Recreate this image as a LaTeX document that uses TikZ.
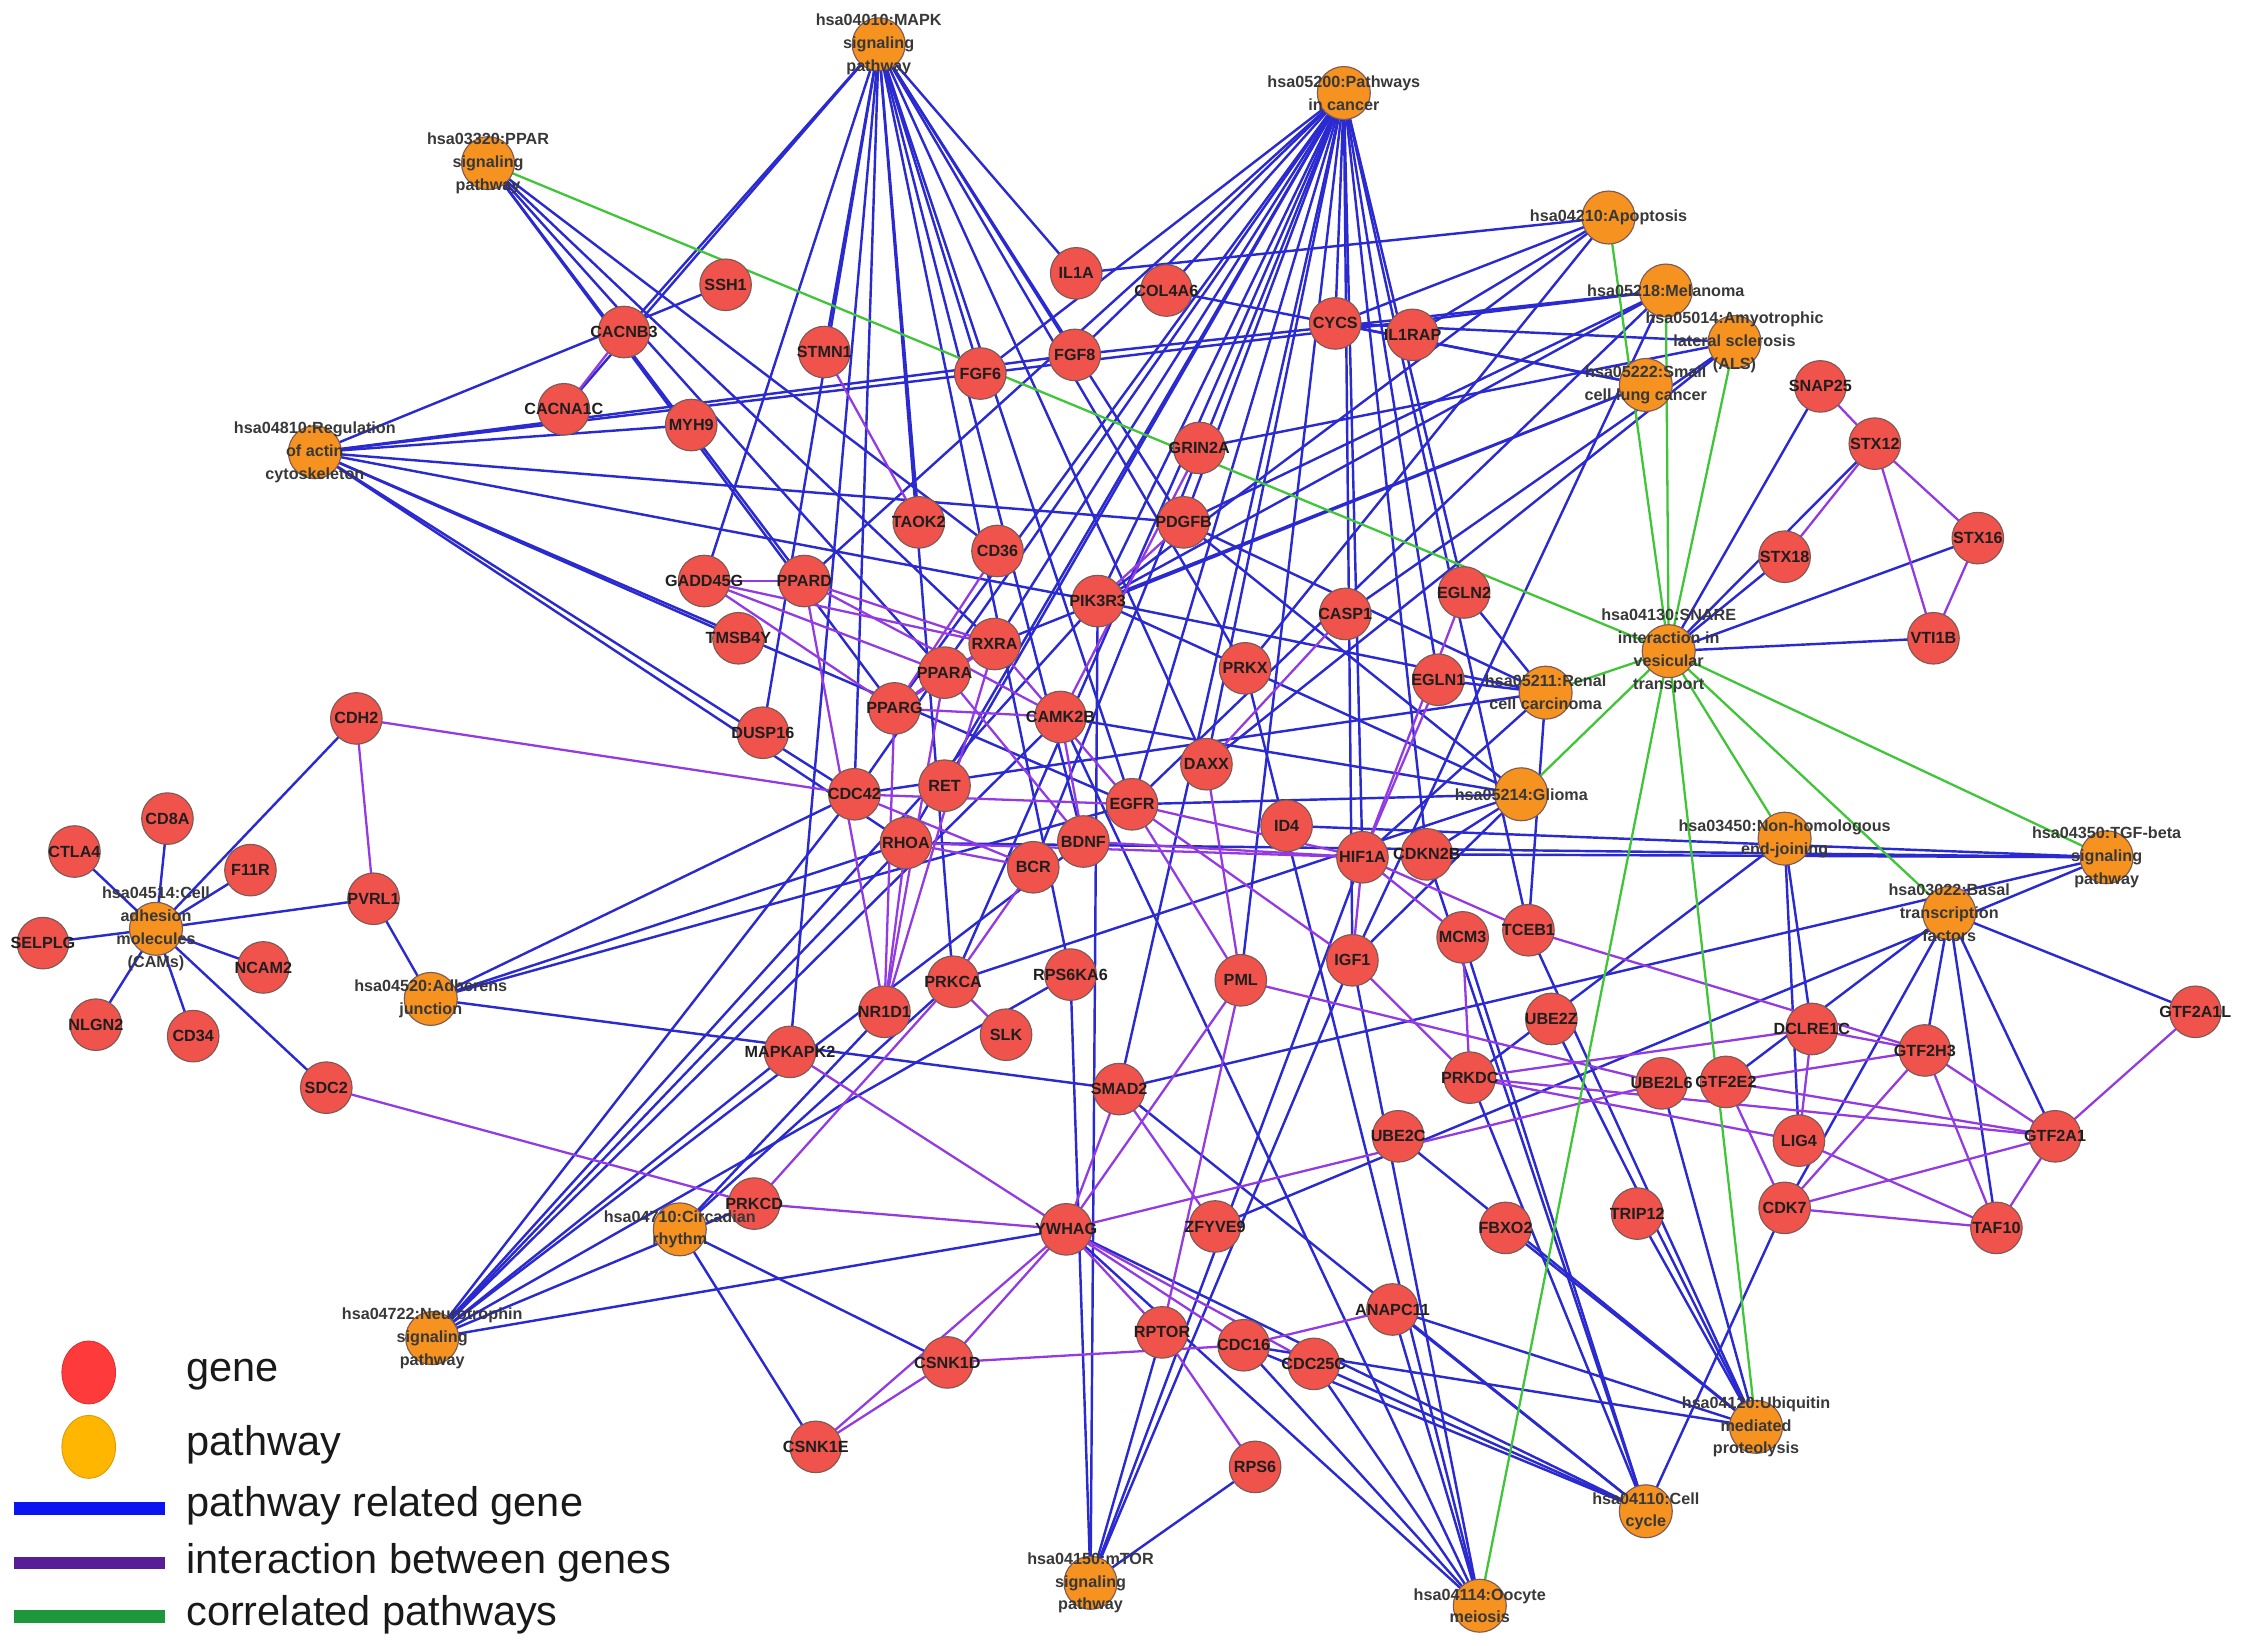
\documentclass[tikz,border=0pt]{standalone}
\usepackage{fontspec}
\setmainfont{Liberation Sans}
\usetikzlibrary{shapes.geometric}
\pgfdeclarelayer{bg}
\pgfdeclarelayer{fg}
\pgfsetlayers{bg,main,fg}
\definecolor{genefill}{RGB}{240,82,76}
\definecolor{pwfill}{RGB}{245,146,32}
\definecolor{nodeline}{RGB}{125,90,85}
\definecolor{eblue}{RGB}{42,42,208}
\definecolor{epurple}{RGB}{148,58,226}
\definecolor{egreen}{RGB}{64,196,56}
\definecolor{lgene}{RGB}{255,58,58}
\definecolor{lpw}{RGB}{255,182,0}
\definecolor{lblue}{RGB}{10,20,240}
\definecolor{lpurple}{RGB}{88,30,150}
\definecolor{lgreen}{RGB}{30,150,60}
\newcommand\GeneNode[4]{\node[genec] (#1) at (#2,#3) {};\begin{pgfonlayer}{fg}\node[gtxt] (#1-t) at (#1) {#4};\end{pgfonlayer}}
\newcommand\PathNode[4]{\node[pwc] (#1) at (#2,#3) {};\begin{pgfonlayer}{fg}\node[ptxt] (#1-t) at (#1) {#4};\end{pgfonlayer}}
\begin{document}
\begin{tikzpicture}[x=1pt,y=-1pt,
 genec/.style={circle,draw=nodeline,fill=genefill,line width=0.8pt,minimum size=36pt,inner sep=0pt},
 pwc/.style={circle,draw=nodeline,fill=pwfill,line width=0.8pt,minimum size=37pt,inner sep=0pt},
 gtxt/.style={font=\fontsize{11.3}{16}\selectfont\bfseries,text=black!88,inner sep=0pt},
 ptxt/.style={font=\fontsize{11.3}{16}\selectfont\bfseries,text=black!78,align=center,inner sep=0pt},
 bl/.style={draw=eblue,line width=1.7pt},
 pu/.style={draw=epurple,line width=1.6pt},
 gr/.style={draw=egreen,line width=1.6pt},
 legtxt/.style={anchor=base west,font=\fontsize{29}{30}\selectfont,text=black!90,inner sep=0pt}]
\useasboundingbox (0,0) rectangle (1568,1150);
% pathways
\PathNode{mapk}{614}{31}{hsa04010:MAPK\\signaling\\pathway}
\PathNode{cancer}{939}{65}{hsa05200:Pathways\\in cancer}
\PathNode{ppar}{341}{114}{hsa03320:PPAR\\signaling\\pathway}
\PathNode{apop}{1124}{152}{hsa04210:Apoptosis}
\PathNode{melan}{1164}{203}{hsa05218:Melanoma}
\PathNode{als}{1212}{239}{hsa05014:Amyotrophic\\lateral sclerosis\\(ALS)}
\PathNode{sclc}{1150}{269}{hsa05222:Small\\cell lung cancer}
\PathNode{actin}{220}{316}{hsa04810:Regulation\\of actin\\cytoskeleton}
\PathNode{snare}{1166}{455}{hsa04130:SNARE\\interaction in\\vesicular\\transport}
\PathNode{renal}{1080}{484}{hsa05211:Renal\\cell carcinoma}
\PathNode{glioma}{1063}{555}{hsa05214:Glioma}
\PathNode{nhej}{1247}{586}{hsa03450:Non-homologous\\end-joining}
\PathNode{tgfb}{1472}{599}{hsa04350:TGF-beta\\signaling\\pathway}
\PathNode{basal}{1362}{638}{hsa03022:Basal\\transcription\\factors}
\PathNode{cams}{109}{649}{hsa04514:Cell\\adhesion\\molecules\\(CAMs)}
\PathNode{adher}{301}{698}{hsa04520:Adherens\\junction}
\PathNode{circ}{475}{859}{hsa04710:Circadian\\rhythm}
\PathNode{neuro}{302}{935}{hsa04722:Neurotrophin\\signaling\\pathway}
\PathNode{mtor}{762}{1106}{hsa04150:mTOR\\signaling\\pathway}
\PathNode{oocyte}{1034}{1122}{hsa04114:Oocyte\\meiosis}
\PathNode{cellcyc}{1150}{1056}{hsa04110:Cell\\cycle}
\PathNode{ubiq}{1227}{997}{hsa04120:Ubiquitin\\mediated\\proteolysis}
% genes
\GeneNode{ssh1}{507}{199}{SSH1}
\GeneNode{il1a}{752}{191}{IL1A}
\GeneNode{col4a6}{815}{203}{COL4A6}
\GeneNode{cycs}{933}{226}{CYCS}
\GeneNode{il1rap}{987}{234}{IL1RAP}
\GeneNode{cacnb3}{436}{232}{CACNB3}
\GeneNode{stmn1}{576}{246}{STMN1}
\GeneNode{fgf6}{685}{261}{FGF6}
\GeneNode{fgf8}{751}{248}{FGF8}
\GeneNode{cacna1c}{394}{286}{CACNA1C}
\GeneNode{myh9}{483}{297}{MYH9}
\GeneNode{grin2a}{838}{313}{GRIN2A}
\GeneNode{pdgfb}{827}{365}{PDGFB}
\GeneNode{taok2}{642}{365}{TAOK2}
\GeneNode{cd36}{697}{385}{CD36}
\GeneNode{gadd45g}{492}{406}{GADD45G}
\GeneNode{ppard}{562}{406}{PPARD}
\GeneNode{pik3r3}{767}{420}{PIK3R3}
\GeneNode{tmsb4y}{516}{446}{TMSB4Y}
\GeneNode{rxra}{695}{450}{RXRA}
\GeneNode{ppara}{660}{470}{PPARA}
\GeneNode{prkx}{870}{467}{PRKX}
\GeneNode{casp1}{940}{429}{CASP1}
\GeneNode{egln2}{1023}{414}{EGLN2}
\GeneNode{egln1}{1005}{475}{EGLN1}
\GeneNode{pparg}{625}{495}{PPARG}
\GeneNode{camk2b}{741}{501}{CAMK2B}
\GeneNode{dusp16}{533}{512}{DUSP16}
\GeneNode{daxx}{843}{534}{DAXX}
\GeneNode{cdh2}{249}{502}{CDH2}
\GeneNode{cdc42}{597}{555}{CDC42}
\GeneNode{ret}{660}{549}{RET}
\GeneNode{egfr}{791}{562}{EGFR}
\GeneNode{id4}{899}{577}{ID4}
\GeneNode{hif1a}{952}{599}{HIF1A}
\GeneNode{cdkn2b}{997}{597}{CDKN2B}
\GeneNode{rhoa}{633}{589}{RHOA}
\GeneNode{bdnf}{757}{588}{BDNF}
\GeneNode{bcr}{722}{606}{BCR}
\GeneNode{cd8a}{117}{572}{CD8A}
\GeneNode{ctla4}{52}{595}{CTLA4}
\GeneNode{f11r}{175}{608}{F11R}
\GeneNode{pvrl1}{261}{628}{PVRL1}
\GeneNode{selplg}{30}{659}{SELPLG}
\GeneNode{ncam2}{184}{676}{NCAM2}
\GeneNode{nlgn2}{67}{716}{NLGN2}
\GeneNode{cd34}{135}{724}{CD34}
\GeneNode{sdc2}{228}{760}{SDC2}
\GeneNode{tceb1}{1068}{650}{TCEB1}
\GeneNode{mcm3}{1022}{655}{MCM3}
\GeneNode{igf1}{945}{671}{IGF1}
\GeneNode{pml}{867}{685}{PML}
\GeneNode{rps6ka6}{748}{681}{RPS6KA6}
\GeneNode{prkca}{666}{686}{PRKCA}
\GeneNode{nr1d1}{618}{707}{NR1D1}
\GeneNode{slk}{703}{723}{SLK}
\GeneNode{mapkapk2}{552}{735}{MAPKAPK2}
\GeneNode{ube2z}{1084}{712}{UBE2Z}
\GeneNode{dclre1c}{1266}{719}{DCLRE1C}
\GeneNode{gtf2h3}{1345}{734}{GTF2H3}
\GeneNode{gtf2a1l}{1534}{707}{GTF2A1L}
\GeneNode{prkdc}{1027}{753}{PRKDC}
\GeneNode{smad2}{782}{761}{SMAD2}
\GeneNode{ube2l6}{1161}{757}{UBE2L6}
\GeneNode{gtf2e2}{1206}{756}{GTF2E2}
\GeneNode{lig4}{1257}{797}{LIG4}
\GeneNode{gtf2a1}{1436}{794}{GTF2A1}
\GeneNode{ube2c}{977}{794}{UBE2C}
\GeneNode{prkcd}{527}{841}{PRKCD}
\GeneNode{cdk7}{1247}{844}{CDK7}
\GeneNode{taf10}{1395}{858}{TAF10}
\GeneNode{trip12}{1144}{848}{TRIP12}
\GeneNode{fbxo2}{1052}{858}{FBXO2}
\GeneNode{ywhag}{745}{859}{YWHAG}
\GeneNode{zfyve9}{849}{857}{ZFYVE9}
\GeneNode{anapc11}{973}{915}{ANAPC11}
\GeneNode{rptor}{812}{931}{RPTOR}
\GeneNode{cdc16}{869}{940}{CDC16}
\GeneNode{cdc25c}{918}{953}{CDC25C}
\GeneNode{csnk1d}{662}{952}{CSNK1D}
\GeneNode{csnk1e}{570}{1011}{CSNK1E}
\GeneNode{rps6}{877}{1025}{RPS6}
\GeneNode{snap25}{1272}{270}{SNAP25}
\GeneNode{stx12}{1310}{310}{STX12}
\GeneNode{stx16}{1382}{376}{STX16}
\GeneNode{stx18}{1247}{389}{STX18}
\GeneNode{vti1b}{1351}{446}{VTI1B}
% edges
\begin{pgfonlayer}{bg}
\foreach \g in {cacnb3,cacna1c,stmn1,taok2,fgf6,fgf8,il1a,pdgfb,gadd45g,dusp16,cdc42,rps6ka6,mapkapk2,egfr,bdnf,prkca,daxx,prkx}
  \draw[bl] (mapk.center) -- (\g.center);
\foreach \g in {fgf6,fgf8,col4a6,pdgfb,pik3r3,rxra,ppard,pparg,cdc42,ret,rhoa,egfr,bcr,prkca,smad2,daxx,pml,igf1,hif1a,cdkn2b,tceb1,egln1,egln2,cycs}
  \draw[bl] (cancer.center) -- (\g.center);
\foreach \g in {cd36,ppard,ppara,pparg,rxra}
  \draw[bl] (ppar.center) -- (\g.center);
\foreach \g in {ssh1,fgf6,fgf8,myh9,pdgfb,pik3r3,tmsb4y,egfr,cdc42,rhoa}
  \draw[bl] (actin.center) -- (\g.center);
\foreach \g in {il1a,cycs,il1rap,pik3r3,prkx}
  \draw[bl] (apop.center) -- (\g.center);
\foreach \g in {fgf6,fgf8,pdgfb,egfr,pik3r3,igf1}
  \draw[bl] (melan.center) -- (\g.center);
\foreach \g in {cycs,grin2a,casp1,daxx}
  \draw[bl] (als.center) -- (\g.center);
\foreach \g in {col4a6,cycs,pik3r3,rxra}
  \draw[bl] (sclc.center) -- (\g.center);
\foreach \g in {snap25,stx12,stx16,stx18,vti1b}
  \draw[bl] (snare.center) -- (\g.center);
\foreach \g in {egln1,egln2,hif1a,tceb1,pik3r3,cdc42,pdgfb}
  \draw[bl] (renal.center) -- (\g.center);
\foreach \g in {egfr,pdgfb,cdkn2b,igf1,camk2b,pik3r3,prkca}
  \draw[bl] (glioma.center) -- (\g.center);
\foreach \g in {prkdc,dclre1c,lig4}
  \draw[bl] (nhej.center) -- (\g.center);
\foreach \g in {id4,cdkn2b,smad2,zfyve9,rhoa}
  \draw[bl] (tgfb.center) -- (\g.center);
\foreach \g in {gtf2h3,gtf2a1l,gtf2a1,gtf2e2,taf10,cdk7}
  \draw[bl] (basal.center) -- (\g.center);
\foreach \g in {cd8a,ctla4,f11r,selplg,ncam2,nlgn2,cd34,sdc2,pvrl1,cdh2}
  \draw[bl] (cams.center) -- (\g.center);
\foreach \g in {pvrl1,cdc42,rhoa,egfr,smad2}
  \draw[bl] (adher.center) -- (\g.center);
\foreach \g in {nr1d1,csnk1d,csnk1e,prkca}
  \draw[bl] (circ.center) -- (\g.center);
\foreach \g in {bdnf,rhoa,cdc42,pik3r3,mapkapk2,ywhag,camk2b,rps6ka6,prkcd}
  \draw[bl] (neuro.center) -- (\g.center);
\foreach \g in {rps6ka6,rptor,rps6,pik3r3,igf1,hif1a}
  \draw[bl] (mtor.center) -- (\g.center);
\foreach \g in {ywhag,cdc16,cdc25c,anapc11,igf1,camk2b,prkx}
  \draw[bl] (oocyte.center) -- (\g.center);
\foreach \g in {cdc16,cdc25c,anapc11,ywhag,prkdc,smad2,cdkn2b,mcm3,cdk7}
  \draw[bl] (cellcyc.center) -- (\g.center);
\foreach \g in {ube2z,ube2l6,ube2c,fbxo2,trip12,cdc16,anapc11,tceb1}
  \draw[bl] (ubiq.center) -- (\g.center);
% gene-gene interactions
\foreach \a/\b in {cdh2/pvrl1,cdh2/cdc42,sdc2/prkcd,
  snap25/stx12,stx12/stx18,stx12/stx16,stx12/vti1b,stx16/vti1b,
  prkcd/ywhag,prkcd/prkca,ywhag/csnk1d,ywhag/csnk1e,csnk1d/csnk1e,csnk1d/cdc16,
  mapkapk2/ywhag,ywhag/rptor,ywhag/cdc16,ywhag/cdc25c,ywhag/pml,ywhag/ube2l6,ywhag/smad2,
  rptor/rps6,rptor/pml,cdc16/anapc11,
  nr1d1/ppard,nr1d1/pparg,nr1d1/ppara,nr1d1/rxra,nr1d1/rhoa,
  gadd45g/ppard,gadd45g/ppara,gadd45g/rxra,gadd45g/pparg,
  ppard/rxra,ppard/camk2b,ppara/rxra,pparg/rxra,pparg/ppara,pparg/camk2b,cd36/pparg,
  stmn1/taok2,cacnb3/cacna1c,grin2a/camk2b,daxx/casp1,daxx/pml,
  hif1a/egln1,hif1a/egln2,hif1a/tceb1,hif1a/igf1,hif1a/egfr,hif1a/bdnf,hif1a/rhoa,hif1a/mcm3,
  egfr/cdc42,egfr/igf1,egfr/pml,
  prkdc/mcm3,prkdc/dclre1c,prkdc/lig4,prkdc/gtf2a1,igf1/prkdc,
  dclre1c/lig4,dclre1c/gtf2h3,gtf2e2/gtf2h3,gtf2e2/gtf2a1,gtf2e2/cdk7,
  cdk7/gtf2h3,cdk7/gtf2a1,cdk7/taf10,lig4/taf10,gtf2h3/taf10,gtf2a1/taf10,gtf2a1/gtf2a1l,gtf2h3/gtf2a1,
  pml/ube2l6,smad2/zfyve9,bcr/prkca,cdc42/bcr,rhoa/bcr,camk2b/bdnf,pdgfb/pik3r3,
  tceb1/gtf2h3,ppara/bdnf,rxra/egfr,slk/prkca}
  \draw[pu] (\a.center) -- (\b.center);
% correlated pathways
\foreach \p in {ppar,apop,melan,als,renal,glioma,nhej,basal,tgfb,ubiq,oocyte}
  \draw[gr] (snare.center) -- (\p.center);
\end{pgfonlayer}
% legend
\node[ellipse,draw=lgene!85!black,fill=lgene,line width=0.6pt,minimum width=37.5pt,minimum height=44pt,inner sep=0pt] (leggene) at (62,959) {};
\node[ellipse,draw=lpw!85!black,fill=lpw,line width=0.6pt,minimum width=37.5pt,minimum height=44pt,inner sep=0pt] (legpw) at (62,1011) {};
\coordinate (lba) at (10,1054); \coordinate (lbb) at (115,1054);
\coordinate (lpa) at (10,1092); \coordinate (lpb) at (115,1092);
\coordinate (lga) at (10,1129.5); \coordinate (lgb) at (115,1129.5);
\draw[lblue,line width=8.5pt] (lba) -- (lbb);
\draw[lpurple,line width=8.5pt] (lpa) -- (lpb);
\draw[lgreen,line width=8.5pt] (lga) -- (lgb);
\node[legtxt] (lt1) at (130,965.5) {gene};
\node[legtxt] (lt2) at (130,1016.8) {pathway};
\node[legtxt] (lt3) at (130,1059.7) {pathway related gene};
\node[legtxt] (lt4) at (130,1099.7) {interaction between genes};
\node[legtxt] (lt5) at (130,1135.6) {correlated pathways};
\end{tikzpicture}
\end{document}
